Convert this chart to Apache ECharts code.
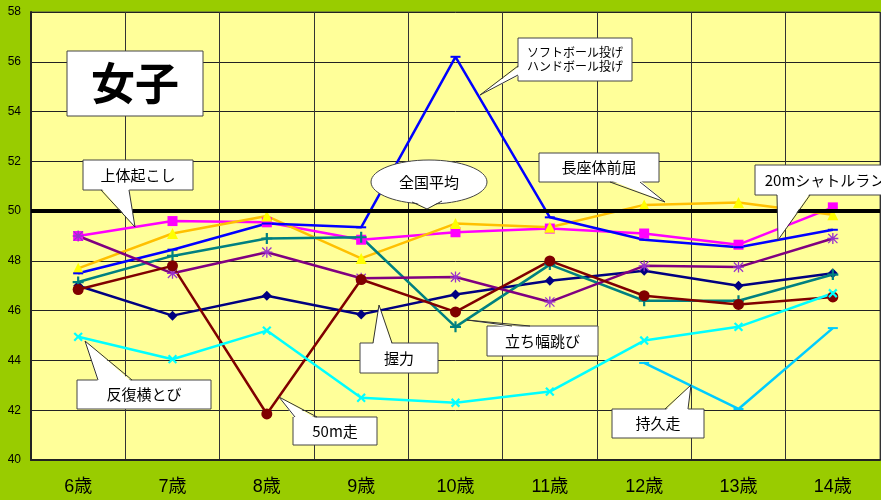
<!DOCTYPE html>
<html>
<head>
<meta charset="utf-8">
<script src="https://cdn.jsdelivr.net/npm/echarts@6/dist/echarts.min.js"></script>
<style>html,body{margin:0;padding:0;background:#99CC00;}#c{width:881px;height:500px;}</style>
</head>
<body>
<div id="c"></div>
<script>
const categories = ['6歳','7歳','8歳','9歳','10歳','11歳','12歳','13歳','14歳'];
const yTicks = { min: 40, max: 58, interval: 2 };
const nationalAverage = 50;
const situp = [49.0, 49.6, 49.55, 48.85, 49.15, 49.3, 49.1, 48.65, 50.15];      // 上体起こし
const sitReach = [47.7, 49.1, 49.8, 48.1, 49.5, 49.35, 50.25, 50.35, 49.85];    // 長座体前屈
const throwBall = [47.5, 48.45, 49.5, 49.35, 56.2, 49.75, 48.85, 48.55, 49.25]; // ソフトボール投げ/ハンドボール投げ
const grip = [47.0, 45.8, 46.6, 45.85, 46.65, 47.2, 47.6, 47.0, 47.5];          // 握力
const jump = [47.15, 48.2, 48.9, 48.95, 45.35, 47.85, 46.4, 46.4, 47.45];       // 立ち幅跳び
const shuttle = [49.0, 47.5, 48.35, 47.3, 47.35, 46.35, 47.8, 47.75, 48.9];     // 20mシャトルラン
const dash50 = [46.85, 47.8, 41.85, 47.25, 45.95, 48.0, 46.6, 46.25, 46.55];    // 50m走
const sideStep = [44.95, 44.05, 45.2, 42.5, 42.3, 42.75, 44.8, 45.35, 46.7];    // 反復横とび
const endurance = [null, null, null, null, null, null, 43.9, 42.05, 45.3];      // 持久走

const PLUS = 'path://M4 0h2v4h4v2h-4v4h-2v-4h-4v-2h4z';
const STAR = 'path://M4.4 0h1.2v4.4h4.4v1.2h-4.4v4.4h-1.2v-4.4h-4.4v-1.2h4.4z M1.2 0.4l3.8 3.8 3.8-3.8 0.8 0.8-3.8 3.8 3.8 3.8-0.8 0.8-3.8-3.8-3.8 3.8-0.8-0.8 3.8-3.8-3.8-3.8z';

function ser(name, data, color, symbol, size, symColor, extra) {
  return Object.assign({
    name, type: 'line', data, symbol, symbolSize: size,
    lineStyle: { color, width: 2.5 },
    itemStyle: { color: symColor || color },
    showAllSymbol: true, animation: false, connectNulls: false
  }, extra || {});
}

const FONT = "'Liberation Sans','Noto Sans CJK JP',sans-serif";
const JFONT = "'Noto Sans CJK JP','Liberation Sans',sans-serif";

function callout(box, ptr, lines, fontSize, weight) {
  const els = [];
  els.push({ type: 'rect', shape: { x: box[0], y: box[1], width: box[2]-box[0], height: box[3]-box[1] },
    style: { fill: '#fff', stroke: '#444', lineWidth: 1 }, z: 100 });
  if (ptr) {
    els.push({ type: 'polygon', shape: { points: ptr.fill }, style: { fill: '#fff' }, z: 101 });
    els.push({ type: 'polyline', shape: { points: ptr.line }, style: { stroke: '#333', lineWidth: 1, fill: null }, z: 102 });
  }
  els.push({ type: 'text', x: (box[0]+box[2])/2, y: (box[1]+box[3])/2, z: 103,
    style: { text: lines, fill: '#000', font: (weight || 'normal') + ' ' + fontSize + 'px ' + JFONT, align: 'center', verticalAlign: 'middle', lineHeight: fontSize + 2 } });
  return els;
}

const graphics = [].concat(
  callout([67,51,203,116], null, '女子', 44, 'bold'),
  callout([83,160,193,190], { fill: [[101,188],[129,188],[135,227]], line: [[101,190],[135,227],[129,190]] }, '上体起こし', 15),
  callout([518,38,632,81], { fill: [[520,66],[520,75],[480,95]], line: [[518,66],[480,95],[518,75]] }, 'ソフトボール投げ\nハンドボール投げ', 12),
  callout([539,153,659,182], { fill: [[610,180],[640,180],[665,202]], line: [[610,182],[665,202],[640,182]] }, '長座体前屈', 15),
  callout([755,165,895,195], { fill: [[777,193],[810,193],[778,240]], line: [[777,195],[778,240],[810,195]] }, '20mシャトルラン', 15),
  callout([77,380,211,409], { fill: [[98,382],[132,382],[85,341]], line: [[98,380],[85,341],[132,380]] }, '反復横とび', 15),
  callout([293,417,377,445], { fill: [[295,419],[317,419],[279,397]], line: [[295,417],[279,397],[317,417]] }, '50m走', 15),
  callout([360,343,438,373], { fill: [[373,345],[392,345],[379,305]], line: [[373,343],[379,305],[392,343]] }, '握力', 15),
  callout([487,326,598,356], { fill: [[512,328],[530,328],[467,320]], line: [[512,326],[467,320],[530,326]] }, '立ち幅跳び', 15),
  callout([612,409,704,438], { fill: [[665,411],[688,411],[691,385]], line: [[665,409],[691,385],[688,409]] }, '持久走', 15),
  [
    { type: 'ellipse', shape: { cx: 429, cy: 182, rx: 58, ry: 22 }, style: { fill: '#fff', stroke: '#444', lineWidth: 1 }, z: 100 },
    { type: 'polygon', shape: { points: [[412,200],[442,200],[427,209]] }, style: { fill: '#fff' }, z: 101 },
    { type: 'polyline', shape: { points: [[412,202],[427,209],[442,201]] }, style: { stroke: '#333', lineWidth: 1, fill: null }, z: 102 },
    { type: 'text', x: 429, y: 182, z: 103, style: { text: '全国平均', fill: '#000', font: '15px ' + JFONT, align: 'center', verticalAlign: 'middle' } }
  ]
);

const chart = echarts.init(document.getElementById('c'));
chart.setOption({
  backgroundColor: '#99CC00',
  animation: false,
  grid: { left: 31, right: 1, top: 12, bottom: 40, show: true, backgroundColor: '#FFFF99', borderColor: '#555', borderWidth: 1 },
  xAxis: {
    type: 'category', data: categories, boundaryGap: true,
    axisLine: { show: true, lineStyle: { color: '#222', width: 2 } },
    axisTick: { show: false },
    splitLine: { show: true, lineStyle: { color: '#333', width: 1 } },
    axisLabel: { color: '#000', fontSize: 18, fontFamily: FONT, margin: 18, interval: 0 }
  },
  yAxis: {
    type: 'value', min: yTicks.min, max: yTicks.max, interval: yTicks.interval,
    axisLine: { show: true, lineStyle: { color: '#222', width: 2 } },
    axisTick: { show: false },
    splitLine: { show: true, lineStyle: { color: '#222', width: 1 } },
    axisLabel: { color: '#000', fontSize: 12, fontFamily: FONT, margin: 10 }
  },
  series: [
    ser('上体起こし', situp, '#FF00FF', 'rect', 10, '#FF00FF', {
      markLine: { silent: true, symbol: 'none', label: { show: false },
        lineStyle: { color: '#000', width: 4, type: 'solid' }, data: [{ yAxis: nationalAverage }] }
    }),
    ser('長座体前屈', sitReach, '#FFC000', 'triangle', 11, '#FFFF00'),
    ser('ソフトボール投げ', throwBall, '#0000FF', 'rect', [10, 2], '#0000FF'),
    ser('握力', grip, '#000080', 'diamond', 10, '#000080'),
    ser('立ち幅跳び', jump, '#008080', PLUS, 11, '#008080'),
    ser('20mシャトルラン', shuttle, '#800080', STAR, 11, '#9933CC'),
    ser('50m走', dash50, '#800000', 'circle', 11, '#800000'),
    ser('反復横とび', sideStep, '#00FFFF', PLUS, 11, '#00FFFF', { symbolRotate: 45 }),
    ser('持久走', endurance, '#00CCFF', 'rect', [10, 2], '#00CCFF')
  ],
  graphic: graphics
});
</script>
</body>
</html>
